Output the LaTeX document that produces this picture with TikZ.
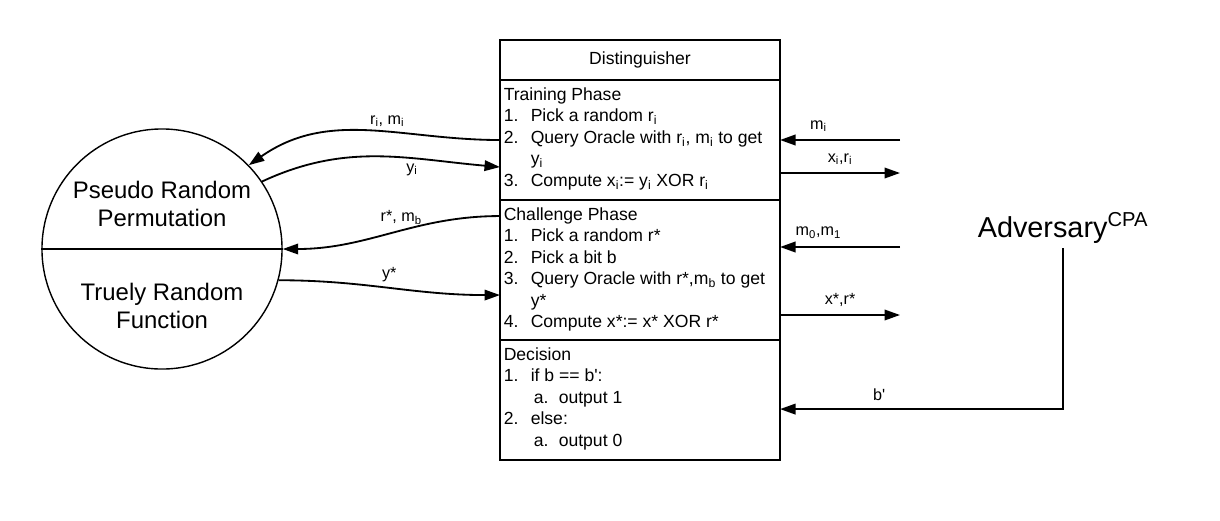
\documentclass[tikz,border=0pt]{standalone}
\usepackage{fontspec}
\setmainfont{Liberation Sans}
\usetikzlibrary{arrows.meta,positioning,calc}

\newcommand\itm[2]{\makebox[0.675cm][l]{#1}#2}
\newcommand\subitm[2]{\hspace*{0.75cm}\makebox[0.625cm][l]{#1}#2}
\newcommand\cont[1]{\hspace*{0.675cm}#1}
\newcommand\sbs[1]{\textsubscript{#1}}

\tikzset{
  sect/.style={draw, line width=1.3pt, minimum width=7cm, outer sep=0pt, inner sep=0pt},
  sectxt/.style={anchor=north west, align=left, inner xsep=2.5pt, inner ysep=5pt,
    font=\fontsize{12.5}{15.3}\selectfont},
  arr/.style={line width=1.3pt, -{Triangle[length=11pt,width=7.5pt]}},
  lbl/.style={font=\fontsize{11.5}{14}\selectfont},
}

\begin{document}
\begin{tikzpicture}[x=0.025cm, y=-0.025cm]
    \useasboundingbox (0,0) rectangle (1220,520);

    % Distinguisher
    \node[sect, minimum height=1cm, font=\fontsize{12.5}{15}\selectfont] (title) at (640,60) {Distinguisher};
    \node[sect, minimum height=3cm, below=0pt of title] (train) {};
    \node[sect, minimum height=3.5cm, below=0pt of train] (chal) {};
    \node[sect, minimum height=3cm, below=0pt of chal] (dec) {};

    \node[sectxt] (traintxt) at (train.north west) {Training Phase\\
      \itm{1.}{Pick a random r\sbs{i}}\\
      \itm{2.}{Query Oracle with r\sbs{i}, m\sbs{i} to get}\\
      \cont{y\sbs{i}}\\
      \itm{3.}{Compute x\sbs{i}:= y\sbs{i} XOR r\sbs{i}}};
    \node[sectxt] (chaltxt) at (chal.north west) {Challenge Phase\\
      \itm{1.}{Pick a random r*}\\
      \itm{2.}{Pick a bit b}\\
      \itm{3.}{Query Oracle with r*,m\sbs{b} to get}\\
      \cont{y*}\\
      \itm{4.}{Compute x*:= x* XOR r*}};
    \node[sectxt] (dectxt) at (dec.north west) {Decision\\
      \itm{1.}{if b == b\textquotesingle:}\\
      \subitm{a.}{output 1}\\
      \itm{2.}{else:}\\
      \subitm{a.}{output 0}};

    % Oracle
    \node[circle, draw, line width=1pt, minimum size=6cm, inner sep=0pt] (prf) at (162,249) {};
    \draw[line width=1.3pt] (prf.west) -- (prf.east);
    \node[font=\fontsize{17}{20}\selectfont, align=center] (prp) at (162,204) {Pseudo Random\\Permutation};
    \node[font=\fontsize{17}{20}\selectfont, align=center] (trf) at (162,306) {Truely Random\\Function};

    % Adversary
    \node[font=\fontsize{20.5}{24}\selectfont] (adv) at (1063,228) {Adversary\textsuperscript{CPA}};

    % oracle queries
    \draw[arr] (train.west) to[out=180,in=35] node[lbl, above, pos=0.42] {r\sbs{i}, m\sbs{i}} (prf.44);
    \draw[arr] (prf.34) to[out=25,in=175] node[lbl, below, pos=0.65] {y\sbs{i}} ($(train.west)+(0,27)$);
    \draw[arr] ($(chal.west)+(0,-54)$) to[out=180,in=0] node[lbl, above, pos=0.45] {r*, m\sbs{b}} (prf.east);
    \draw[arr] (prf.-15) to[out=0,in=180] node[lbl, above] {y*} ($(chal.west)+(0,25)$);

    % adversary messages
    \coordinate (mi) at (900,140);
    \coordinate (xr) at (900,173);
    \coordinate (mm) at (900,247);
    \coordinate (xs) at (900,315);
    \draw[arr] (mi) -- (mi -| train.east) node[lbl, pos=0.68, above=2pt] {m\sbs{i}};
    \draw[arr] (xr -| train.east) -- (xr) node[lbl, midway, above=2pt] {x\sbs{i},r\sbs{i}};
    \draw[arr] (mm) -- (mm -| chal.east) node[lbl, pos=0.68, above=2pt] {m\sbs{0},m\sbs{1}};
    \draw[arr] (xs -| chal.east) -- (xs) node[lbl, midway, above=2pt] {x*,r*};
    \draw[arr] (adv.south) |- ($(dec.east)+(0,9)$) node[lbl, pos=0.825, above=2pt] {b\textquotesingle};
\end{tikzpicture}
\end{document}
